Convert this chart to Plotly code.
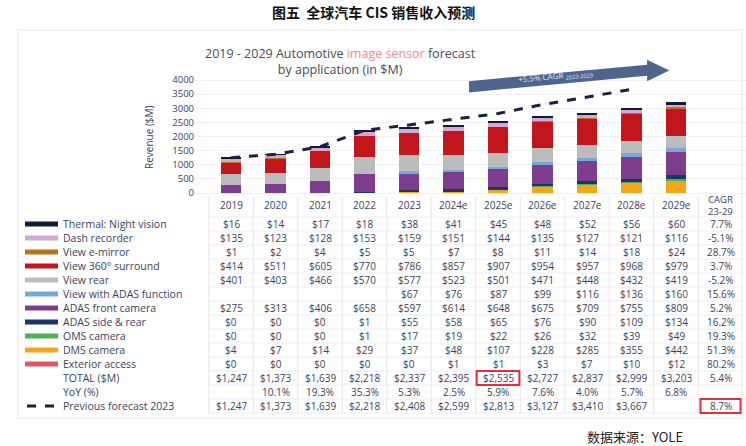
import plotly.graph_objects as go

W, H = 746, 446

years = ["2019", "2020", "2021", "2022", "2023", "2024e", "2025e", "2026e", "2027e", "2028e", "2029e"]

# stacked from the bottom up
series = [
    ("Exterior access", "#e0566a", [0, 0, 0, 0, 0, 1, 1, 3, 7, 10, 12], "80.2%"),
    ("DMS camera", "#f4a51c", [4, 7, 14, 29, 37, 48, 107, 228, 285, 355, 442], "51.3%"),
    ("OMS camera", "#4caf5a", [0, 0, 0, 1, 17, 19, 22, 26, 32, 39, 49], "19.3%"),
    ("ADAS side & rear", "#1d3466", [0, 0, 0, 1, 55, 58, 65, 76, 90, 109, 134], "16.2%"),
    ("ADAS front camera", "#7d3c8c", [275, 313, 406, 658, 597, 614, 648, 675, 709, 755, 809], "5.2%"),
    ("View with ADAS function", "#74a9d8", [None, None, None, None, 67, 76, 87, 99, 116, 136, 160], "15.6%"),
    ("View rear", "#bcbcbc", [401, 403, 466, 570, 577, 523, 501, 471, 448, 432, 419], "-5.2%"),
    ("View 360° surround", "#c0161c", [414, 511, 605, 770, 786, 857, 907, 954, 957, 968, 979], "3.7%"),
    ("View e-mirror", "#b8731c", [1, 2, 4, 5, 5, 7, 8, 11, 14, 18, 24], "28.7%"),
    ("Dash recorder", "#cfa9d8", [135, 123, 128, 153, 159, 151, 144, 135, 127, 121, 116], "-5.1%"),
    ("Thermal: Night vision", "#151a33", [16, 14, 17, 18, 38, 41, 45, 48, 52, 56, 60], "7.7%"),
]

totals = [1247, 1373, 1639, 2218, 2337, 2395, 2535, 2727, 2837, 2999, 3203]
total_cagr = "5.4%"
yoy = [None, "10.1%", "19.3%", "35.3%", "5.3%", "2.5%", "5.9%", "7.6%", "4.0%", "5.7%", "6.8%"]
previous = [1247, 1373, 1639, 2218, 2408, 2599, 2813, 3127, 3410, 3667]
previous_cagr = "8.7%"

TXT = "#3b3f5e"
xs = list(range(len(years)))

# pixel mapping: x index 0 -> px 231, 44.5 px per index; y 0 -> px 193
px_per_x = 44.5
x0_px = 231
px_per_y = 113 / 4000
y0_px = 193
dom_left = 195
xr = [(dom_left - x0_px) / px_per_x, (W - x0_px) / px_per_x]
yr = [-(H - y0_px) / px_per_y, y0_px / px_per_y]


def py(p):
    return 1 - p / H


def pxp(p):
    return p / W


def note(x, y, text, xref="paper", size=10, color=TXT, xanchor="center", **kw):
    return dict(x=x, y=y, xref=xref, yref="paper", text=text, showarrow=False,
                xanchor=xanchor, yanchor="middle", font=dict(size=size, color=color), **kw)


fig = go.Figure()
for name, color, vals, _ in series:
    fig.add_trace(go.Bar(x=xs, y=[v or 0 for v in vals], marker=dict(color=color, line_width=0),
                         width=0.45, name=name, showlegend=False))
fig.add_trace(go.Scatter(x=xs[:len(previous)], y=previous, mode="lines",
                         line=dict(color="#1b2140", width=3, dash="dash"), showlegend=False))

shapes = []
ann = []

# CAGR arrow
shapes.append(dict(type="path", xref="x", yref="y", fillcolor="#4f6590", line_width=0,
                   path="M 5.35 3560 L 9.35 4150 L 9.35 3960 L 9.85 4340 L 9.35 4720 L 9.35 4540 L 5.35 3960 Z"))
ann.append(dict(x=7.3, y=4130, xref="x", yref="y", text="+5.5% CAGR <sub>2023-2029</sub>", showarrow=False,
                textangle=-5.5, font=dict(size=8, color="#e3e9f6")))

# header
t = note(0.5, py(12), "<b>图五  全球汽车 CIS 销售收入预测</b>", size=14, color="#111")
t["font"]["family"] = "Noto Sans CJK SC"
ann.append(t)
ann.append(note(pxp(340), py(62), "2019 - 2029 Automotive <span style='color:#f08a8a'>image sensor</span> forecast"
                "<br>by application (in $M)", size=12.5, color="#4a4a5a"))
ann.append(note(pxp(149), py(137), "Revenue ($M)", textangle=-90))
s = note(pxp(635), py(436), "数据来源：YOLE", size=13, color="#222")
s["font"]["family"] = "Noto Sans CJK SC"
ann.append(s)

# column headers
for i, yv in enumerate(years):
    ann.append(note(i, py(205), yv, xref="x"))
ann.append(note(11, py(205), "CAGR<br>23-29", xref="x", size=9.5))

row_y = 224
for name, color, vals, cagr in reversed(series):
    shapes.append(dict(type="line", xref="paper", yref="paper", x0=pxp(25), x1=pxp(58), y0=py(row_y), y1=py(row_y),
                       line=dict(color=color, width=5)))
    ann.append(note(pxp(61), py(row_y), name, size=10.5, xanchor="left"))
    for i, v in enumerate(vals):
        if v is not None:
            ann.append(note(i, py(row_y), f"${v:,}", xref="x"))
    ann.append(note(11, py(row_y), cagr, xref="x"))
    row_y += 14

ann.append(note(pxp(61), py(378), "TOTAL ($M)", size=10.5, xanchor="left"))
for i, v in enumerate(totals):
    ann.append(note(i, py(378), f"${v:,}", xref="x"))
ann.append(note(11, py(378), total_cagr, xref="x"))

ann.append(note(pxp(61), py(392), "YoY (%)", size=10.5, xanchor="left"))
for i, v in enumerate(yoy):
    if v:
        ann.append(note(i, py(392), v, xref="x"))

shapes.append(dict(type="line", xref="paper", yref="paper", x0=pxp(27), x1=pxp(56), y0=py(406), y1=py(406),
                   line=dict(color="#1b2140", width=3, dash="dash")))
ann.append(note(pxp(61), py(406), "Previous forecast 2023", size=10.5, xanchor="left"))
for i, v in enumerate(previous):
    ann.append(note(i, py(406), f"${v:,}", xref="x"))
ann.append(note(11, py(406), previous_cagr, xref="x"))

# table grid lines
for k in range(12):
    shapes.append(dict(type="line", xref="x", yref="paper", x0=k - 0.5, x1=k - 0.5, y0=py(197), y1=py(414),
                       line=dict(color="#e4e6ee", width=1), layer="below"))
for k in range(15):
    yy = 217 + 14 * k
    shapes.append(dict(type="line", xref="x", yref="paper", x0=-0.5, x1=11.5, y0=py(yy), y1=py(yy),
                       line=dict(color="#eceef4", width=1), layer="below"))
# outer panel
shapes.append(dict(type="rect", xref="paper", yref="paper", x0=pxp(18), x1=pxp(742), y0=py(30), y1=py(418),
                   line=dict(color="#e6e6e6", width=1), layer="below"))

# red highlight boxes
shapes.append(dict(type="rect", xref="x", yref="paper", x0=5.52, x1=6.48, y0=py(371), y1=py(385),
                   line=dict(color="#e03040", width=2)))
shapes.append(dict(type="rect", xref="x", yref="paper", x0=10.55, x1=11.45, y0=py(399), y1=py(413),
                   line=dict(color="#e03040", width=2)))

fig.update_layout(
    width=W, height=H, margin=dict(l=0, r=0, t=0, b=0),
    paper_bgcolor="white", plot_bgcolor="white", barmode="stack", bargap=0,
    font=dict(family="Open Sans"),
    xaxis=dict(domain=[dom_left / W, 1], range=xr, showgrid=False, showticklabels=False, zeroline=False),
    yaxis=dict(range=yr, tickvals=[0, 500, 1000, 1500, 2000, 2500, 3000, 3500, 4000],
               tickfont=dict(size=9.5, color=TXT), gridcolor="#f0f0f0", zeroline=False, ticklen=0),
    shapes=shapes, annotations=ann,
)

fig.write_html("out.html", config={"displayModeBar": False},
               post_script="document.body.style.margin='0';")
